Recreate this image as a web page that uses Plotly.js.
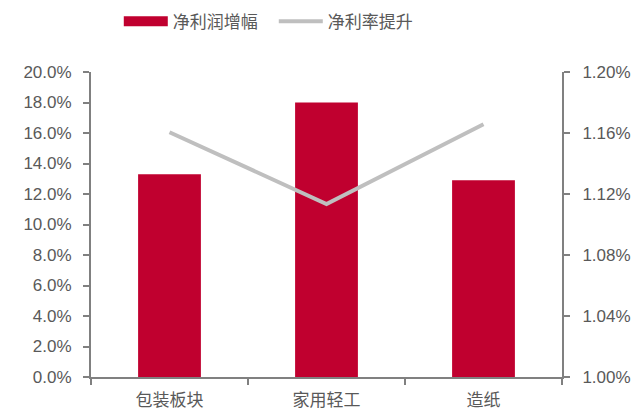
<!DOCTYPE html>
<html>
<head>
<meta charset="utf-8">
<script src="https://cdn.plot.ly/plotly-3.0.1.min.js"></script>
<style>html,body{margin:0;padding:0;background:#fff;}#chart{width:643px;height:414px;}</style>
</head>
<body>
<div id="chart"></div>
<script>
const categories = ["包装板块", "家用轻工", "造纸"];
const profitGrowth = [13.3, 18.0, 12.9];        // 净利润增幅 (%)
const marginUplift = [1.1605, 1.1134, 1.1657];  // 净利率提升 (%)
const leftTicks = [0, 2, 4, 6, 8, 10, 12, 14, 16, 18, 20];
const rightTicks = [1.00, 1.04, 1.08, 1.12, 1.16, 1.20];

const axisColor = "#808080";
const textColor = "#595959";
const barColor = "#C0002F";
const lineColor = "#BFBFBF";
const fontFam = "Liberation Sans, Arial, Noto Sans CJK SC, sans-serif";
const cjkFam = "Noto Sans CJK SC, sans-serif";

const traces = [
  {
    type: "bar", name: "净利润增幅", x: categories, y: profitGrowth,
    marker: {color: barColor}, yaxis: "y", showlegend: false
  },
  {
    // legend key for the bars, drawn as a wide block like the reference
    type: "scatter", mode: "lines", name: "净利润增幅", x: [null], y: [null],
    line: {color: barColor, width: 10}, yaxis: "y", hoverinfo: "skip"
  },
  {
    type: "scatter", mode: "lines", name: "净利率提升", x: categories, y: marginUplift,
    line: {color: lineColor, width: 4}, yaxis: "y2"
  }
];

const layout = {
  width: 643, height: 414,
  margin: {l: 91, r: 81, t: 72, b: 37, autoexpand: false},
  paper_bgcolor: "#fff", plot_bgcolor: "#fff",
  bargap: 0.6,
  font: {family: fontFam, color: textColor, size: 17},
  showlegend: true,
  legend: {
    orientation: "h", x: 0.059, xanchor: "left", y: 1.165, yanchor: "middle",
    font: {family: cjkFam, size: 17, color: textColor},
    itemwidth: 44, entrywidth: 96, entrywidthmode: "pixels", tracegroupgap: 0
  },
  xaxis: {
    showline: true, linecolor: axisColor, linewidth: 2,
    ticks: "outside", tickson: "boundaries", ticklen: 6, tickcolor: axisColor, tickwidth: 2,
    tickfont: {family: cjkFam, size: 17, color: textColor},
    ticklabelstandoff: 7,
    showgrid: false, zeroline: false, fixedrange: true
  },
  yaxis: {
    range: [0, 20], tickmode: "array", tickvals: leftTicks,
    ticktext: leftTicks.map(v => v.toFixed(1) + "%"),
    showline: true, linecolor: axisColor, linewidth: 2,
    ticks: "outside", ticklen: 6, tickcolor: axisColor, tickwidth: 2,
    ticklabelstandoff: 8,
    showgrid: false, zeroline: false,
    tickfont: {family: fontFam, size: 17, color: textColor}
  },
  yaxis2: {
    overlaying: "y", side: "right",
    range: [1.00, 1.20], tickmode: "array", tickvals: rightTicks,
    ticktext: rightTicks.map(v => v.toFixed(2) + "%"),
    showline: true, linecolor: axisColor, linewidth: 2,
    ticks: "outside", ticklen: 6, tickcolor: axisColor, tickwidth: 2,
    ticklabelstandoff: 9,
    showgrid: false, zeroline: false,
    tickfont: {family: fontFam, size: 17, color: textColor}
  }
};

Plotly.newPlot("chart", traces, layout, {displayModeBar: false, staticPlot: true});
</script>
</body>
</html>
